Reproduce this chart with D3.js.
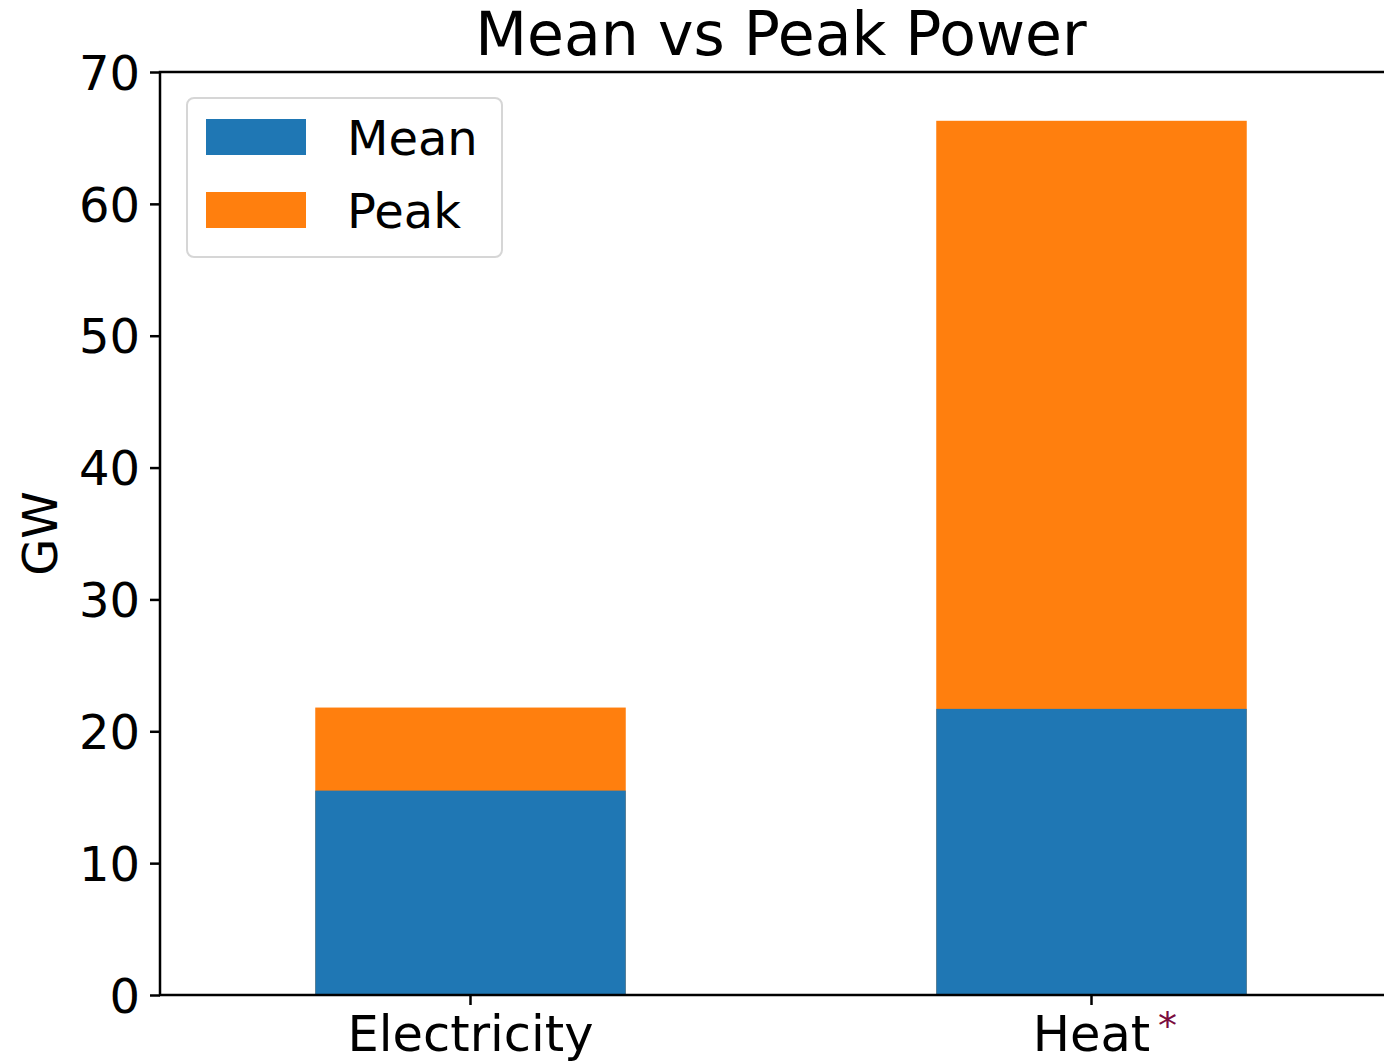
<!DOCTYPE html>
<html>
<head>
<meta charset="utf-8">
<script src="https://cdn.jsdelivr.net/npm/d3@7"></script>
<style>
  body { margin: 0; background: #fff; }
  svg { font-family: "DejaVu Sans", sans-serif; }
</style>
</head>
<body>
<svg id="chart" width="1384" height="1063"></svg>
<script>
// chart data
const categories = ["Electricity", "Heat"];
const meanValues = [15.5, 21.7];
const peakValues = [21.8, 66.3];
const seriesNames = ["Mean", "Peak"];
const yTicks = [0, 10, 20, 30, 40, 50, 60, 70];

const svg = d3.select("#chart");
const margin = { top: 72, left: 160 },
    width = 1242,
    height = 923;

const colors = { mean: "#1f77b4", peak: "#ff7f0e", text: "#000", star: "#7a0b3e" };

const g = svg.append("g").attr("transform", `translate(${margin.left},${margin.top})`);

const x = d3.scaleBand().domain(categories).range([0, width]).paddingInner(0.5).paddingOuter(0.25);
const y = d3.scaleLinear().domain([0, 70]).range([height, 0]);

// peak bars behind, mean bars in front
g.selectAll(".peak")
    .data(categories)
    .enter().append("rect")
    .attr("x", d => x(d))
    .attr("width", x.bandwidth())
    .attr("y", (d, i) => y(peakValues[i]))
    .attr("height", (d, i) => y(0) - y(peakValues[i]))
    .attr("fill", colors.peak);

g.selectAll(".mean")
    .data(categories)
    .enter().append("rect")
    .attr("x", d => x(d))
    .attr("width", x.bandwidth())
    .attr("y", (d, i) => y(meanValues[i]))
    .attr("height", (d, i) => y(0) - y(meanValues[i]))
    .attr("fill", colors.mean);

// axes
const yAxis = g.append("g")
    .call(d3.axisLeft(y).tickValues(yTicks).tickSize(10).tickPadding(10));
const xAxis = g.append("g")
    .attr("transform", `translate(0,${height})`)
    .call(d3.axisBottom(x).tickSize(10).tickPadding(8));

[xAxis, yAxis].forEach(a => {
    a.select(".domain").remove();
    a.selectAll("line").attr("stroke", "#000").attr("stroke-width", 2.5);
    a.selectAll("text").attr("fill", colors.text).style("font-size", "48px")
        .style("font-family", "DejaVu Sans, sans-serif");
});
yAxis.selectAll("text").attr("dy", "0.36em");
xAxis.selectAll("text").attr("dy", "0.76em").style("font-size", "49.5px");

// spines
g.append("rect")
    .attr("width", width)
    .attr("height", height)
    .attr("fill", "none")
    .attr("stroke", "#000")
    .attr("stroke-width", 2.5);

// asterisk next to Heat
g.append("text")
    .attr("x", x("Heat") + x.bandwidth() / 2 + 76)
    .attr("y", height + 44)
    .attr("text-anchor", "middle")
    .style("font-size", "38px")
    .attr("fill", colors.star)
    .text("*");

// title and y label
svg.append("text")
    .attr("x", margin.left + width / 2)
    .attr("y", 55)
    .attr("text-anchor", "middle")
    .style("font-size", "60px")
    .text("Mean vs Peak Power");

svg.append("text")
    .attr("transform", `translate(57,${margin.top + height / 2}) rotate(-90)`)
    .attr("text-anchor", "middle")
    .style("font-size", "48px")
    .text("GW");

// legend
const legend = svg.append("g").attr("transform", "translate(187,98)");
legend.append("rect")
    .attr("width", 315).attr("height", 159)
    .attr("rx", 7)
    .attr("fill", "#fff")
    .attr("stroke", "#d6d6d6")
    .attr("stroke-width", 2);
seriesNames.forEach((name, i) => {
    legend.append("rect")
        .attr("x", 19).attr("y", 21 + i * 73)
        .attr("width", 100).attr("height", 36)
        .attr("fill", i === 0 ? colors.mean : colors.peak);
    legend.append("text")
        .attr("x", 160).attr("y", 57 + i * 73)
        .style("font-size", "48px")
        .text(name);
});
</script>
</body>
</html>
